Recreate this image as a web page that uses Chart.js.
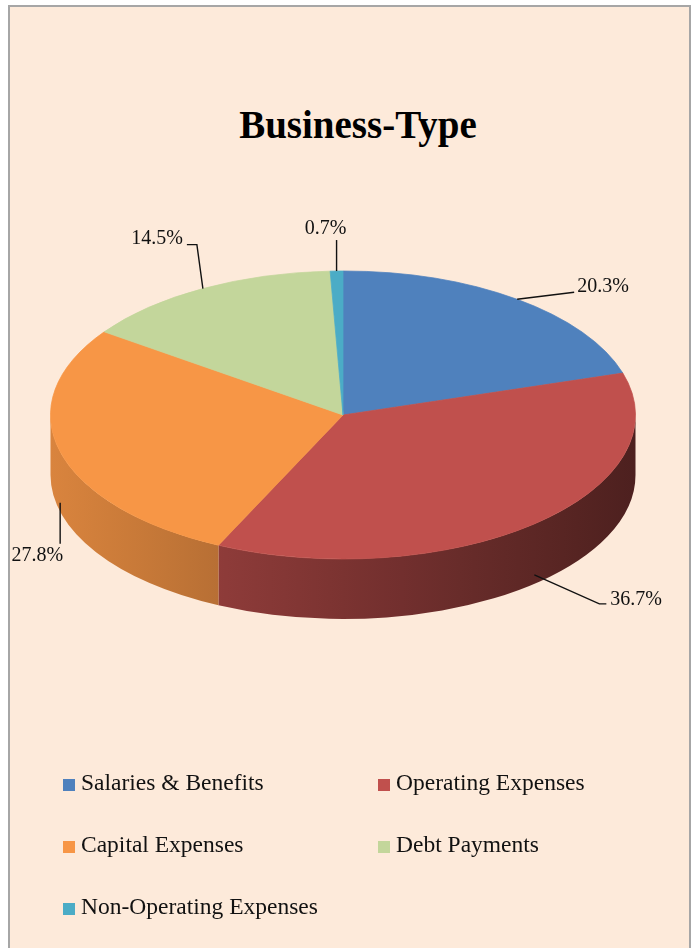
<!DOCTYPE html>
<html>
<head>
<meta charset="utf-8">
<script src="https://cdn.jsdelivr.net/npm/chart.js@4.4.1/dist/chart.umd.min.js"></script>
<style>
  html, body { margin: 0; padding: 0; background: #fff; }
  body { width: 697px; height: 948px; overflow: hidden; position: relative; font-family: 'Liberation Serif', serif; }
  #frame { position: absolute; left: 8px; top: 5px; width: 683px; height: 1100px; box-sizing: border-box;
           border: 2px solid #a6a6a6; background: #fdeada; }
  #title { position: absolute; left: 158px; width: 400px; top: 105px; text-align: center; white-space: nowrap;
           font-weight: bold; font-size: 39px; line-height: 39px; color: #000; }
  canvas { position: absolute; left: 0; top: 0; }
  .item { position: absolute; font-size: 23.5px; line-height: 23.5px; white-space: nowrap; color: #111; }
  .sw { position: absolute; left: -18px; top: 7.7px; width: 12px; height: 12px; }
</style>
</head>
<body>
<div id="frame"></div>
<div id="title">Business-Type</div>
<canvas id="pie" width="697" height="948"></canvas>
<div id="legend"></div>
<script>
const categories = ['Salaries & Benefits', 'Operating Expenses', 'Capital Expenses', 'Debt Payments', 'Non-Operating Expenses'];
const shares = [20.3, 36.7, 27.8, 14.5, 0.7];
const sliceColors = ['#4f81bd', '#c0504d', '#f79646', '#c3d69b', '#4bacc6'];

// look of the tilted pie
const TILT = 144 / 292.5;
const DEPTH = 60;
const DROP = 51; // where front labels hook onto the side wall

// leader line layout per label: line end offset, tail, text offset from tail end
const labelLayout = [
  { dx: 57, dy: -7, tail: 0, tx: 3, ty: -6, align: 'left' },
  { dx: 65, dy: 29, tail: 7, tx: 4, ty: -4, align: 'left' },
  { dx: 0, dy: 41, tail: 0, tx: 3, ty: 12, align: 'right' },
  { dx: -6, dy: -44, tail: -10, tx: -4, ty: -6, align: 'right' },
  { dx: 0, dy: -31, tail: 0, tx: -11, ty: -11, align: 'center' }
];

function shade(hex, f) {
  const n = parseInt(hex.slice(1), 16);
  const r = Math.round(((n >> 16) & 255) * f);
  const g = Math.round(((n >> 8) & 255) * f);
  const b = Math.round((n & 255) * f);
  return 'rgb(' + r + ',' + g + ',' + b + ')';
}

const tiltPlugin = {
  id: 'tilt3d',
  beforeDatasetsDraw(chart) {
    const ctx = chart.ctx;
    const arcs = chart.getDatasetMeta(0).data;
    arcs.forEach((arc, i) => {
      const p = arc.getProps(['x', 'y', 'outerRadius', 'startAngle', 'endAngle'], true);
      const a = Math.max(p.startAngle, 0);
      const b = Math.min(p.endAngle, Math.PI);
      if (a >= b) return;
      const r = p.outerRadius, ry = r * TILT;
      const g = ctx.createLinearGradient(p.x - r, 0, p.x + r, 0);
      for (let t = 0; t <= 1.0001; t += 0.1) g.addColorStop(Math.min(t, 1), shade(sliceColors[i], 0.88 - 0.48 * t));
      ctx.beginPath();
      ctx.ellipse(p.x, p.y, r, ry, 0, a, b, false);
      ctx.ellipse(p.x, p.y + DEPTH, r, ry, 0, b, a, true);
      ctx.closePath();
      ctx.fillStyle = g;
      ctx.fill();
    });
    const cy = arcs[0].y;
    ctx.save();
    ctx.translate(0, cy);
    ctx.scale(1, TILT);
    ctx.translate(0, -cy);
  },
  afterDatasetsDraw(chart) {
    const ctx = chart.ctx;
    ctx.restore();
    const arcs = chart.getDatasetMeta(0).data;
    ctx.save();
    ctx.strokeStyle = '#111';
    ctx.lineWidth = 1.4;
    ctx.fillStyle = '#111';
    ctx.font = '20px "Liberation Serif"';
    ctx.textBaseline = 'middle';
    arcs.forEach((arc, i) => {
      const p = arc.getProps(['x', 'y', 'outerRadius', 'startAngle', 'endAngle'], true);
      const mid = (p.startAngle + p.endAngle) / 2;
      const r = p.outerRadius;
      const ax = p.x + r * Math.cos(mid);
      const ay = p.y + r * TILT * Math.sin(mid) + (Math.sin(mid) > 0 ? DROP : 0);
      const L = labelLayout[i];
      const ex = ax + L.dx, ey = ay + L.dy;
      ctx.beginPath();
      ctx.moveTo(ax, ay);
      ctx.lineTo(ex, ey);
      ctx.lineTo(ex + L.tail, ey);
      ctx.stroke();
      ctx.textAlign = L.align;
      ctx.fillText(shares[i].toFixed(1) + '%', ex + L.tail + L.tx, ey + L.ty);
    });
    ctx.restore();
  }
};

new Chart(document.getElementById('pie'), {
  type: 'pie',
  data: {
    labels: categories,
    datasets: [{
      data: shares,
      backgroundColor: sliceColors,
      borderColor: sliceColors,
      borderWidth: 1,
      hoverOffset: 0,
      offset: 0,
      clip: false
    }]
  },
  options: {
    responsive: false,
    animation: false,
    events: [],
    layout: { padding: { left: 50, right: 61, top: 115, bottom: 233 } },
    plugins: { legend: { display: false }, title: { display: false }, tooltip: { enabled: false } }
  },
  plugins: [tiltPlugin]
});

// legend in two columns below the pie
const legendCols = [81, 396];
const legendRows = [771.3, 833.3, 895.3];
const legend = document.getElementById('legend');
categories.forEach((name, i) => {
  const item = document.createElement('div');
  item.className = 'item';
  item.style.left = legendCols[i % 2] + 'px';
  item.style.top = legendRows[Math.floor(i / 2)] + 'px';
  const sw = document.createElement('span');
  sw.className = 'sw';
  sw.style.background = sliceColors[i];
  item.appendChild(sw);
  item.appendChild(document.createTextNode(name));
  legend.appendChild(item);
});
</script>
</body>
</html>
